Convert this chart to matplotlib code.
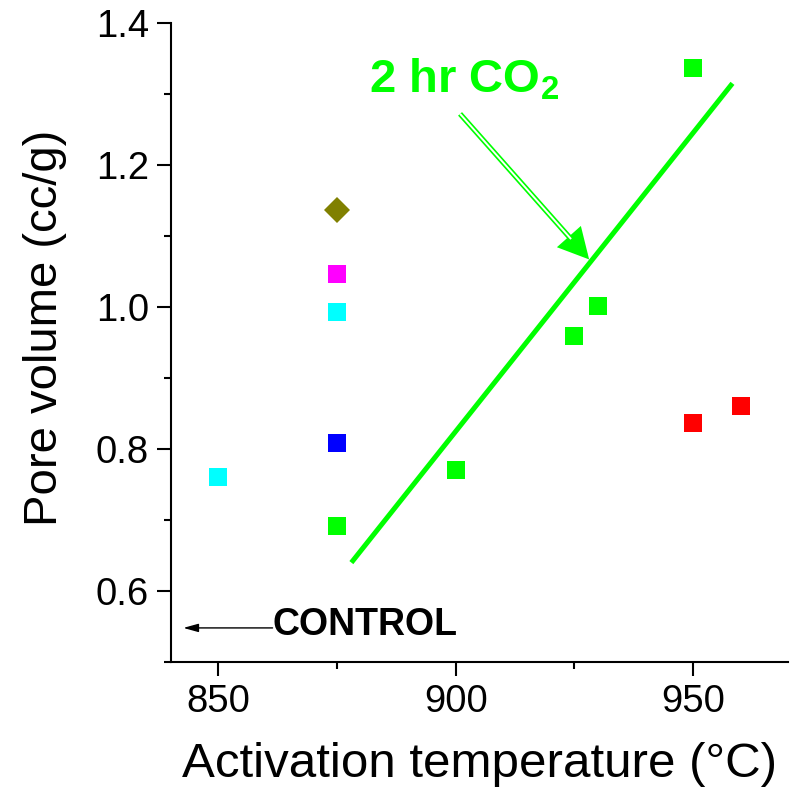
import matplotlib
matplotlib.use("Agg")
import matplotlib.pyplot as plt
from matplotlib.ticker import MultipleLocator, FixedLocator

plt.rcParams['font.family'] = ['Liberation Sans', 'DejaVu Sans']
plt.rcParams['mathtext.fontset'] = 'custom'
plt.rcParams['mathtext.rm'] = 'Liberation Sans'
plt.rcParams['mathtext.bf'] = 'Liberation Sans:bold'

# ---- data ----
green_x = [875, 900, 925, 930, 950]
green_y = [0.691, 0.770, 0.959, 1.002, 1.337]
red_x = [950, 960]
red_y = [0.836, 0.860]
cyan_x = [850, 875]
cyan_y = [0.760, 0.993]
blue_x = [875]
blue_y = [0.809]
magenta_x = [875]
magenta_y = [1.046]
olive_x = [875]
olive_y = [1.137]

fit_x = [878.0, 958.3]
fit_y = [0.640, 1.315]

co2_label_pos = (881.8, 1.302)
co2_arrow_start = (900.9, 1.272)
co2_arrow_tip = (928.1, 1.067)

control_label_pos = (861.4, 0.538)
control_arrow_start = (861.4, 0.548)
control_arrow_tip = (842.6, 0.548)

x_ticks = [850, 900, 950]
y_ticks = [0.6, 0.8, 1.0, 1.2, 1.4]

GREEN = '#00FF00'

fig = plt.figure(figsize=(7.95, 7.88), dpi=100)
ax = fig.add_axes([171/795, 1-662/788, (788-171)/795, (662-23)/788])

ms = 13.4
ax.plot(fit_x, fit_y, color=GREEN, lw=3.6, solid_capstyle='butt', zorder=2)
ax.plot(green_x, green_y, 's', color=GREEN, ms=ms, mew=0, zorder=3)
ax.plot(red_x, red_y, 's', color='#FF0000', ms=ms, mew=0, zorder=3)
ax.plot(cyan_x, cyan_y, 's', color='#00FFFF', ms=ms, mew=0, zorder=3)
ax.plot(blue_x, blue_y, 's', color='#0000FF', ms=ms, mew=0, zorder=3)
ax.plot(magenta_x, magenta_y, 's', color='#FF00FF', ms=ms, mew=0, zorder=3)
ax.plot(olive_x, olive_y, 'D', color='#808000', ms=13.0, mew=0, zorder=3)

# 2 hr CO2 annotation with double-line arrow
ax.text(co2_label_pos[0], co2_label_pos[1], r'2 hr CO$_\mathbf{2}$', color=GREEN,
        fontsize=34, fontweight='bold', ha='left', va='baseline')
ax.annotate('', xy=co2_arrow_tip, xytext=co2_arrow_start,
            arrowprops=dict(arrowstyle='-|>,head_length=0.8,head_width=0.42',
                            lw=3.8, color=GREEN, shrinkA=0, shrinkB=0,
                            mutation_scale=20, joinstyle='miter', capstyle='butt'))
frac = 0.86
inner_end = (co2_arrow_start[0] + frac*(co2_arrow_tip[0]-co2_arrow_start[0]),
             co2_arrow_start[1] + frac*(co2_arrow_tip[1]-co2_arrow_start[1]))
ax.plot([co2_arrow_start[0], inner_end[0]], [co2_arrow_start[1], inner_end[1]],
        color='white', lw=1.4, solid_capstyle='butt', zorder=5)

# CONTROL annotation
ax.text(control_label_pos[0], control_label_pos[1], 'CONTROL', color='black',
        fontsize=27, fontweight='bold', ha='left', va='baseline')
ax.annotate('', xy=control_arrow_tip, xytext=control_arrow_start,
            arrowprops=dict(arrowstyle='-|>,head_length=0.9,head_width=0.25',
                            lw=1.0, color='black', shrinkA=0, shrinkB=0,
                            mutation_scale=10))

ax.set_xlim(840, 970)
ax.set_ylim(0.5, 1.4)
ax.xaxis.set_major_locator(FixedLocator(x_ticks))
ax.xaxis.set_minor_locator(MultipleLocator(25))
ax.yaxis.set_major_locator(FixedLocator(y_ticks))
ax.yaxis.set_minor_locator(MultipleLocator(0.1))
ax.set_xticklabels([str(v) for v in x_ticks])
ax.set_yticklabels([f'{v:.1f}' for v in y_ticks])

for s in ['top', 'right']:
    ax.spines[s].set_visible(False)
for s in ['left', 'bottom']:
    ax.spines[s].set_linewidth(1.5)

ax.tick_params(which='major', direction='out', length=10, width=1.5,
               labelsize=27.5, pad=6)
ax.tick_params(which='minor', direction='out', length=5, width=1.5)

ax.set_xlabel('Activation temperature (°C)', fontsize=35.5)
ax.set_ylabel('Pore volume (cc/g)', fontsize=34)
ax.xaxis.label.set_va('baseline')
ax.xaxis.set_label_coords(0.5, (662-776.7)/639)
ax.yaxis.label.set_va('center')
ax.yaxis.label.set_ha('center')
ax.yaxis.set_label_coords((45-171)/617, (662-328)/639)

fig.savefig('out.png', dpi=100)
